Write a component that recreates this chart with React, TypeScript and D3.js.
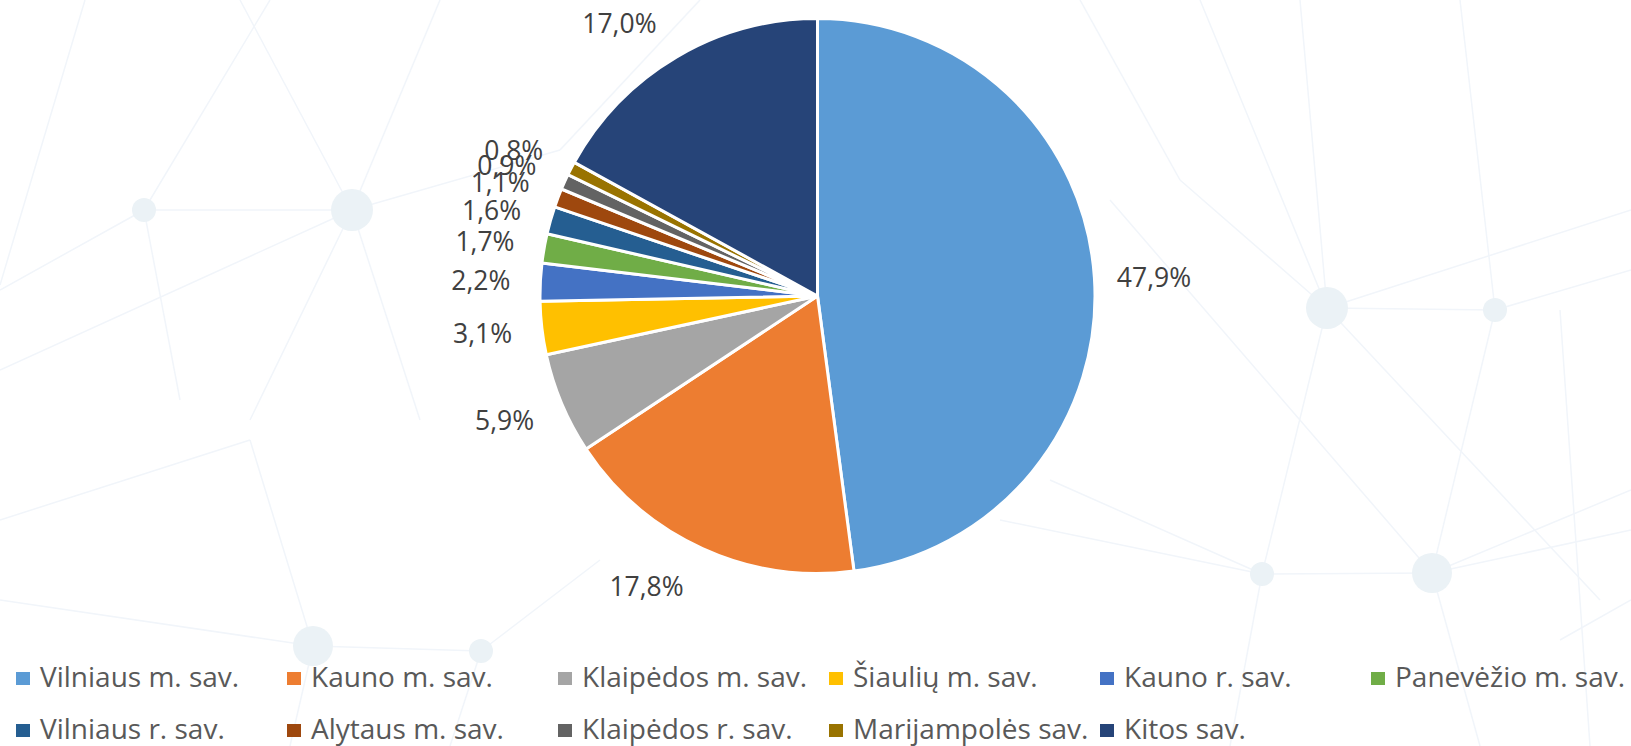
import React from "react";
import * as d3 from "d3";

// ---- Data ----
const categories: string[] = [
  "Vilniaus m. sav.",
  "Kauno m. sav.",
  "Klaipėdos m. sav.",
  "Šiaulių m. sav.",
  "Kauno r. sav.",
  "Panevėžio m. sav.",
  "Vilniaus r. sav.",
  "Alytaus m. sav.",
  "Klaipėdos r. sav.",
  "Marijampolės sav.",
  "Kitos sav.",
];
const shares: number[] = [47.9, 17.8, 5.9, 3.1, 2.2, 1.7, 1.6, 1.1, 0.9, 0.8, 17.0];

// ---- Styles / layout ----
const colors: string[] = [
  "#5B9BD5",
  "#ED7D31",
  "#A5A5A5",
  "#FFC000",
  "#4472C4",
  "#70AD47",
  "#255E91",
  "#9E480E",
  "#636363",
  "#997300",
  "#264478",
];
// small angular nudges (degrees) applied to the outside-end labels
const labelNudgeDeg: number[] = [0.6, 6.0, 1.1, 0.2, -0.3, -0.6, -1.1, -1.0, -1.5, -1.7, -5.4];

const W = 1631;
const H = 746;
const CX = 817.5;
const CY = 296;
const R = 277.5;
const LABEL_R = 337;
const FONT = "'Open Sans', 'Noto Sans', sans-serif";

// faint decorative network in the background
const bgNodes: [number, number, number][] = [
  [144, 210, 12],
  [352, 210, 21],
  [1327, 308, 21],
  [1495, 310, 12],
  [1262, 574, 12],
  [1432, 573, 20],
  [313, 646, 20],
  [481, 651, 12],
];
const bgLines: [number, number, number, number][] = [
  [0, 290, 144, 210],
  [144, 210, 352, 210],
  [0, 370, 352, 210],
  [352, 210, 560, 150],
  [85, 0, 0, 285],
  [270, 0, 144, 210],
  [144, 210, 180, 400],
  [240, 0, 352, 210],
  [352, 210, 250, 420],
  [352, 210, 420, 420],
  [440, 0, 352, 210],
  [700, 0, 560, 150],
  [1080, 0, 1180, 180],
  [1180, 180, 1327, 308],
  [1327, 308, 1495, 310],
  [1327, 308, 1631, 210],
  [1495, 310, 1631, 270],
  [1300, 0, 1327, 308],
  [1460, 0, 1495, 310],
  [1327, 308, 1262, 574],
  [1495, 310, 1432, 573],
  [1327, 308, 1600, 600],
  [1200, 0, 1327, 308],
  [1110, 200, 1432, 573],
  [1000, 520, 1262, 574],
  [1262, 574, 1432, 573],
  [1050, 480, 1262, 574],
  [1432, 573, 1631, 490],
  [1432, 573, 1631, 530],
  [1262, 574, 1230, 746],
  [1432, 573, 1480, 746],
  [1560, 640, 1631, 600],
  [0, 600, 313, 646],
  [313, 646, 481, 651],
  [250, 440, 313, 646],
  [313, 646, 290, 746],
  [481, 651, 450, 746],
  [481, 651, 600, 560],
  [0, 520, 250, 440],
  [1560, 310, 1590, 746],
];

export default function App() {
  const pie = d3
    .pie<number>()
    .sort(null)
    .value((d) => d)
    .startAngle(0)
    .endAngle(2 * Math.PI);
  const arcs = pie(shares);
  const arcGen = d3.arc<d3.PieArcDatum<number>>().innerRadius(0).outerRadius(R);

  const fmt = (v: number) => d3.format(".1f")(v).replace(".", ",") + "%";

  const labelFs = 26.5;
  const legendFs = 28;

  const legendCols = 6;
  const colX = d3.scaleLinear().domain([0, 1]).range([16, 16 + 271]);
  const rowY = d3.scaleLinear().domain([0, 1]).range([687, 739]);

  return (
    <div style={{ position: "absolute", left: 0, top: 0, width: W, height: H, overflow: "hidden" }}>
      <svg width={W} height={H} style={{ display: "block", background: "#ffffff" }}>
        <g>
          {bgLines.map((l, i) => (
            <line key={"l" + i} x1={l[0]} y1={l[1]} x2={l[2]} y2={l[3]} stroke="#F1F5FA" strokeWidth={1.5} />
          ))}
          {bgNodes.map((n, i) => (
            <circle key={"n" + i} cx={n[0]} cy={n[1]} r={n[2]} fill="#EBF2F6" />
          ))}
        </g>
        <g transform={`translate(${CX},${CY})`}>
          {arcs.map((a, i) => (
            <path key={i} d={arcGen(a) || ""} fill={colors[i]} stroke="#ffffff" strokeWidth={3} strokeLinejoin="round" />
          ))}
          {arcs.map((a, i) => {
            const mid = (a.startAngle + a.endAngle) / 2 + (labelNudgeDeg[i] * Math.PI) / 180;
            const x = LABEL_R * Math.sin(mid);
            const y = -LABEL_R * Math.cos(mid);
            return (
              <text
                key={"t" + i}
                x={x}
                y={y + labelFs * 0.357}
                textAnchor="middle"
                fontFamily={FONT}
                fontSize={labelFs}
                fill="#404040"
              >
                {fmt(shares[i])}
              </text>
            );
          })}
        </g>
        <g>
          {categories.map((c, i) => {
            const col = i % legendCols;
            const row = Math.floor(i / legendCols);
            const x = colX(col);
            const by = rowY(row);
            return (
              <g key={"lg" + i}>
                <rect x={x} y={by - 15} width={14} height={13} fill={colors[i]} />
                <text x={x + 24} y={by} fontFamily={FONT} fontSize={legendFs} fill="#595959">
                  {c}
                </text>
              </g>
            );
          })}
        </g>
      </svg>
    </div>
  );
}
